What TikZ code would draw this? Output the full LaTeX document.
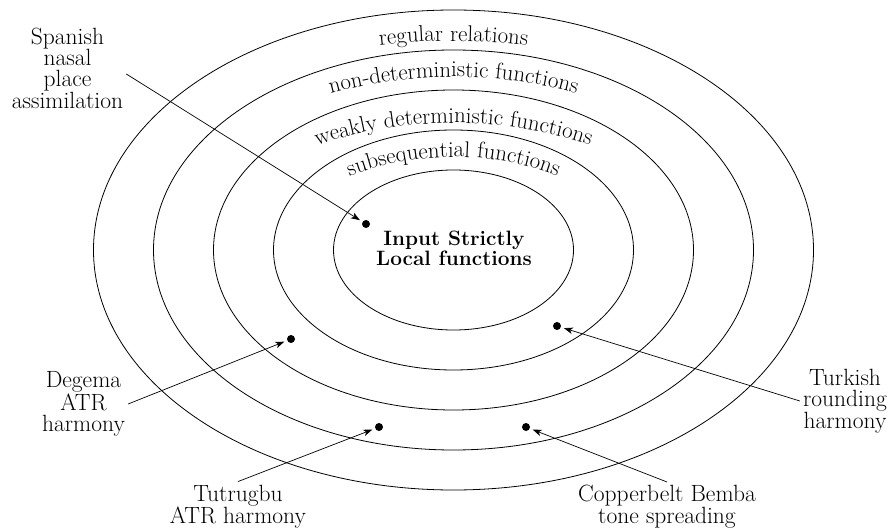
\documentclass[tikz,border=0pt]{standalone}
\usetikzlibrary{arrows.meta,decorations.text}
\begin{document}
\begin{tikzpicture}[x=1pt,y=-1pt,
  ring/.style={draw,line width=0.8pt},
  lbl/.style={font=\fontsize{23.5}{21.4}\selectfont,align=center,inner sep=3pt},
  core/.style={font=\bfseries\fontsize{20.8}{20}\selectfont,align=center,inner sep=2pt},
  dot/.style={circle,fill,inner sep=0pt,minimum size=8pt},
  pointer/.style={draw,line width=0.7pt,-{Stealth[length=9pt,width=6.5pt,inset=2.5pt]},shorten >=3pt},
  arclabel/.style={decorate,decoration={text along path,text align=center,text={|\fontsize{22.8}{22.8}\selectfont|#1}}}]
\useasboundingbox (0,0) rectangle (893,529);
% nested ellipses
\draw[ring] (453.5,250) ellipse [x radius=360, y radius=240];
\draw[ring] (453.5,250) ellipse [x radius=300, y radius=200];
\draw[ring] (453.5,250) ellipse [x radius=240, y radius=160];
\draw[ring] (453.5,250) ellipse [x radius=180, y radius=120];
\draw[ring] (453.5,250) ellipse [x radius=120, y radius=80];
% curved class labels
\path[arclabel={regular relations}] (453.5,641) ++(-105:600) arc[start angle=-105,end angle=-75,radius=600];
\path[arclabel={non-deterministic functions}] (453.5,537) ++(-115:460) arc[start angle=-115,end angle=-65,radius=460];
\path[arclabel={weakly deterministic functions}] (453.5,553) ++(-115:430) arc[start angle=-115,end angle=-65,radius=430];
\path[arclabel={subsequential functions}] (453.5,447) ++(-120:290) arc[start angle=-120,end angle=-60,radius=290];
% centre
\node[core] (isl) at (454,248) {Input Strictly\\Local functions};
% dots
\node[dot] (dsp) at (366,224) {};
\node[dot] (dde) at (291,339) {};
\node[dot] (dtu) at (379,427) {};
\node[dot] (dtk) at (557,326) {};
\node[dot] (dcb) at (526,427) {};
% labels
\node[lbl] (spanish) at (67.5,68) {Spanish\\nasal\\place\\assimilation};
\node[lbl] (degema) at (83.5,404) {Degema\\ATR\\harmony};
\node[lbl] (tutrugbu) at (238,506.5) {Tutrugbu\\ATR harmony};
\node[lbl] (turkish) at (845,401) {Turkish\\rounding\\harmony};
\node[lbl] (bemba) at (667,506.5) {Copperbelt Bemba\\tone spreading};
% arrows
\draw[pointer] ([yshift=-6pt]spanish.east) -- (dsp);
\draw[pointer] (degema.east) -- (dde);
\draw[pointer] (tutrugbu.north) -- (dtu);
\draw[pointer] (turkish.west) -- (dtk);
\draw[pointer] (bemba.north) -- (dcb);
\end{tikzpicture}
\end{document}
